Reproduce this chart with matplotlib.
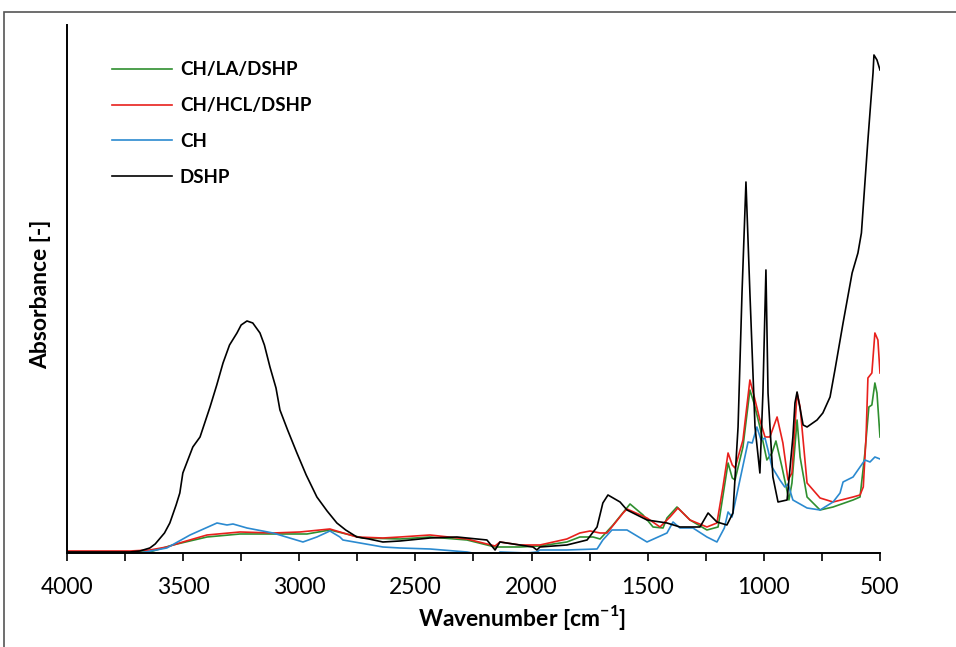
import matplotlib
matplotlib.use("Agg")
import matplotlib.pyplot as plt
from matplotlib.patches import Rectangle
from matplotlib.ticker import MultipleLocator, FuncFormatter

plt.rcParams['font.family'] = ['Lato', 'DejaVu Sans']
plt.rcParams['mathtext.fontset'] = 'custom'
plt.rcParams['mathtext.rm'] = 'Lato'
plt.rcParams['mathtext.bf'] = 'Lato:bold'

# FTIR spectra (absorbance in arbitrary units)
wn_dshp = [3996, 3858, 3729, 3686, 3643, 3620, 3580, 3557, 3530, 3514, 3501, 3458, 3427,
           3384, 3355, 3328, 3300, 3268, 3250, 3225, 3200, 3169, 3150, 3126, 3100, 3083,
           3050, 3010, 2970, 2924, 2880, 2838, 2800, 2752, 2700, 2640, 2566, 2437, 2321,
           2192, 2157, 2136, 2050, 1994, 1977, 1964, 1848, 1761, 1718, 1693, 1671, 1619,
           1589, 1503, 1417, 1361, 1275, 1240, 1202, 1159, 1133, 1111, 1094, 1077, 1060,
           1038, 1017, 1004, 991, 982, 961, 939, 900, 875, 866, 857, 831, 814, 771, 746,
           715, 694, 659, 620, 595, 580, 565, 552, 540, 530, 526, 513, 500]
a_dshp = [0.002, 0.002, 0.002, 0.004, 0.010, 0.018, 0.040, 0.060, 0.096, 0.120, 0.160,
          0.212, 0.232, 0.292, 0.336, 0.380, 0.416, 0.440, 0.456, 0.464, 0.460, 0.440,
          0.416, 0.372, 0.330, 0.286, 0.246, 0.200, 0.156, 0.112, 0.084, 0.060, 0.046,
          0.032, 0.028, 0.022, 0.024, 0.030, 0.032, 0.026, 0.006, 0.022, 0.016, 0.012,
          0.006, 0.012, 0.016, 0.026, 0.052, 0.100, 0.116, 0.102, 0.086, 0.066, 0.060,
          0.052, 0.052, 0.080, 0.062, 0.056, 0.080, 0.252, 0.520, 0.742, 0.520, 0.252,
          0.160, 0.320, 0.566, 0.320, 0.152, 0.102, 0.106, 0.232, 0.300, 0.322, 0.256,
          0.252, 0.266, 0.280, 0.312, 0.366, 0.460, 0.560, 0.600, 0.640, 0.740, 0.826,
          0.900, 0.960, 0.996, 0.986, 0.966]

wn_hcl = [3996, 3729, 3643, 3570, 3501, 3397, 3255, 3113, 2997, 2868, 2752, 2640, 2566,
          2437, 2278, 2157, 2136, 2050, 1964, 1848, 1792, 1748, 1705, 1675, 1606, 1589,
          1503, 1447, 1404, 1370, 1318, 1245, 1202, 1176, 1154, 1136, 1124, 1090, 1060,
          1040, 1017, 995, 974, 943, 918, 896, 879, 857, 844, 814, 758, 702, 616, 586,
          572, 560, 552, 535, 522, 509, 500]
a_hcl = [0.004, 0.004, 0.006, 0.012, 0.022, 0.036, 0.042, 0.040, 0.042, 0.048, 0.032,
         0.030, 0.032, 0.036, 0.028, 0.014, 0.022, 0.016, 0.016, 0.028, 0.040, 0.044,
         0.040, 0.040, 0.080, 0.088, 0.070, 0.052, 0.072, 0.090, 0.066, 0.052, 0.060,
         0.132, 0.200, 0.176, 0.170, 0.226, 0.346, 0.310, 0.266, 0.232, 0.232, 0.272,
         0.220, 0.146, 0.160, 0.320, 0.292, 0.140, 0.110, 0.102, 0.112, 0.116, 0.132,
         0.232, 0.350, 0.360, 0.440, 0.426, 0.360]

wn_la = [3996, 3729, 3643, 3544, 3397, 3255, 3113, 2967, 2868, 2726, 2566, 2437, 2278,
         2157, 2050, 1964, 1848, 1792, 1735, 1705, 1649, 1576, 1520, 1477, 1434, 1417,
         1374, 1318, 1245, 1197, 1154, 1136, 1124, 1090, 1060, 1040, 1017, 987, 965, 948,
         922, 892, 879, 857, 844, 814, 758, 702, 616, 586, 565, 548, 535, 522, 513, 500]
a_la = [0.002, 0.002, 0.002, 0.016, 0.032, 0.038, 0.038, 0.038, 0.046, 0.030, 0.028,
        0.032, 0.026, 0.012, 0.012, 0.014, 0.022, 0.032, 0.032, 0.028, 0.056, 0.098,
        0.076, 0.052, 0.050, 0.070, 0.092, 0.066, 0.046, 0.052, 0.180, 0.150, 0.146,
        0.212, 0.326, 0.296, 0.252, 0.186, 0.200, 0.224, 0.172, 0.106, 0.140, 0.266,
        0.192, 0.112, 0.086, 0.092, 0.106, 0.112, 0.200, 0.292, 0.296, 0.340, 0.320,
        0.232]

wn_ch = [3996, 3686, 3570, 3470, 3354, 3311, 3285, 3225, 3113, 2984, 2924, 2868, 2825,
         2812, 2640, 2566, 2437, 2278, 2157, 2136, 2020, 1977, 1964, 1848, 1718, 1693,
         1654, 1589, 1503, 1417, 1391, 1361, 1305, 1245, 1202, 1170, 1154, 1137, 1103,
         1068, 1050, 1030, 1012, 995, 982, 965, 931, 910, 896, 875, 814, 758, 702, 672,
         659, 616, 565, 543, 522, 500]
a_ch = [0.000, 0.000, 0.010, 0.036, 0.060, 0.056, 0.058, 0.050, 0.040, 0.022, 0.032,
        0.044, 0.032, 0.026, 0.012, 0.010, 0.008, 0.002, -0.008, 0.002, 0.000, 0.002,
        0.006, 0.006, 0.008, 0.026, 0.046, 0.046, 0.022, 0.040, 0.062, 0.050, 0.050,
        0.032, 0.022, 0.050, 0.082, 0.072, 0.146, 0.222, 0.220, 0.252, 0.226, 0.230,
        0.206, 0.172, 0.146, 0.132, 0.138, 0.106, 0.090, 0.086, 0.102, 0.120, 0.142,
        0.152, 0.186, 0.182, 0.192, 0.188]

fig = plt.figure(figsize=(9.56, 6.47), dpi=100)
ax = fig.add_axes([0.070, 0.1453, 0.8505, 0.8161])

# outer frame of the figure
fig.patches.append(Rectangle((4 / 956, -0.1), 1.2, 1.1 - 12 / 647, transform=fig.transFigure,
                             fill=False, edgecolor='#555555', linewidth=1.2))

lw = 1.2
ax.plot(wn_la, a_la, color='#2f8f2f', lw=lw, label='CH/LA/DSHP')
ax.plot(wn_hcl, a_hcl, color='#e8201c', lw=lw, label='CH/HCL/DSHP')
ax.plot(wn_ch, a_ch, color='#2b8ad0', lw=lw, label='CH')
ax.plot(wn_dshp, a_dshp, color='black', lw=lw, label='DSHP')

ax.set_xlim(4000, 500)
ax.set_ylim(0, 1.056)
ax.xaxis.set_major_locator(MultipleLocator(250))
ax.xaxis.set_major_formatter(FuncFormatter(lambda v, p: '%d' % v if v % 500 == 0 else ''))
ax.tick_params(axis='x', direction='out', length=6, width=1.2, labelsize=16.5, pad=11)
ax.set_yticks([])
for s in ['top', 'right']:
    ax.spines[s].set_visible(False)
for s in ['left', 'bottom']:
    ax.spines[s].set_linewidth(1.4)

ax.set_xlabel(r'Wavenumber [cm$^{\mathbf{-1}}$]', fontsize=16.5, fontweight='bold')
ax.xaxis.set_label_coords(0.56, -0.095)
ax.set_ylabel('Absorbance [-]', fontsize=16.5, fontweight='bold')
ax.yaxis.set_label_coords(-0.02, 0.49)

ax.legend(loc='upper left', bbox_to_anchor=(0.035, 0.963), frameon=False, handlelength=3.2,
          handletextpad=0.4, labelspacing=1.0, prop={'weight': 'bold', 'size': 13.5})

fig.savefig('out.png', dpi=100)
